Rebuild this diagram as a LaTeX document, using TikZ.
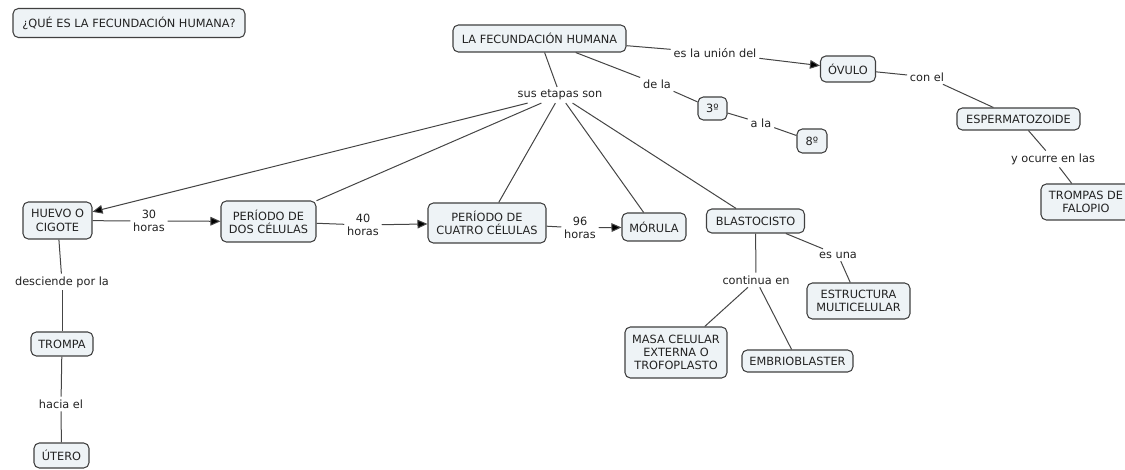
\documentclass[tikz,border=0pt]{standalone}
\usepackage{fontspec}
\setmainfont{DejaVu Sans}
\usetikzlibrary{arrows.meta}
\definecolor{boxfill}{HTML}{EEF3F6}
\definecolor{boxline}{HTML}{404040}
\definecolor{linkc}{HTML}{454545}
\definecolor{txt}{HTML}{222222}
\tikzset{
  concept/.style 2 args={draw=boxline, fill=boxfill, rounded corners=4pt, line width=0.8pt,
    align=center, inner sep=0pt, text=txt, font=\fontsize{8.5}{10}\selectfont,
    minimum width=#1*0.75pt, minimum height=#2*0.75pt},
  phrase/.style={align=center, inner sep=2pt, text=txt, font=\fontsize{8.5}{10}\selectfont},
  link/.style={draw=linkc, line width=0.75pt},
  arr/.style={link, -{Triangle[length=7.5pt,width=6.5pt,fill=black]}}
}
\begin{document}
\begin{tikzpicture}[x=0.75pt,y=-0.75pt]
\useasboundingbox (0,0) rectangle (1125,470);
% concepts
\node[concept={232}{29}] (q) at (129,23) {¿QUÉ ES LA FECUNDACIÓN HUMANA?};
\node[concept={173}{27}] (lfh) at (539.5,38.5) {LA FECUNDACIÓN HUMANA};
\node[concept={55}{26}] (ovulo) at (848,69) {ÓVULO};
\node[concept={29}{23}] (tres) at (712.5,108.5) {3º};
\node[concept={30}{24}] (ocho) at (812,141) {8º};
\node[concept={123}{22}] (esperma) at (1018.5,119) {ESPERMATOZOIDE};
\node[concept={90}{36}] (falopio) at (1086,202) {TROMPAS DE\\FALOPIO};
\node[concept={69}{37}] (huevo) at (57.5,220.5) {HUEVO O\\CIGOTE};
\node[concept={95}{41}] (dos) at (268.5,221.5) {PERÍODO DE\\DOS CÉLULAS};
\node[concept={118}{40}] (cuatro) at (487,223) {PERÍODO DE\\CUATRO CÉLULAS};
\node[concept={64}{28}] (morula) at (654,227) {MÓRULA};
\node[concept={98}{24}] (blasto) at (755.5,221) {BLASTOCISTO};
\node[concept={103}{36}] (estruct) at (858.5,301) {ESTRUCTURA\\MULTICELULAR};
\node[concept={102}{51}] (masa) at (676,352.5) {MASA CELULAR\\EXTERNA O\\TROFOPLASTO};
\node[concept={111}{22}] (embrio) at (797.5,361) {EMBRIOBLASTER};
\node[concept={62}{24}] (trompa) at (62,344) {TROMPA};
\node[concept={55}{25}] (utero) at (61.5,455.5) {ÚTERO};
% linking phrases
\node[phrase] (union) at (715,53) {es la unión del};
\node[phrase] (dela) at (657,84) {de la};
\node[phrase] (ala) at (761,123) {a la};
\node[phrase] (etapas) at (560,95) {sus etapas son};
\node[phrase] (conel) at (927,77) {con el};
\node[phrase] (ocurre) at (1053,159) {y ocurre en las};
\node[phrase] (h30) at (149,221) {30\\horas};
\node[phrase] (h40) at (363,225) {40\\horas};
\node[phrase] (h96) at (580,228) {96\\horas};
\node[phrase] (continua) at (756,280) {continua en};
\node[phrase] (esuna) at (838,255) {es una};
\node[phrase] (desciende) at (62,282) {desciende por la};
\node[phrase] (hacia) at (61,404) {hacia el};
% connectors
\draw[link] (lfh) -- (union);
\draw[arr] (union) -- (ovulo);
\draw[link] (lfh) -- (dela);
\draw[link] (dela) -- (tres);
\draw[link] (tres) -- (ala);
\draw[link] (ala) -- (ocho);
\draw[link] (ovulo) -- (conel);
\draw[link] (conel) -- (esperma);
\draw[link] (esperma) -- (ocurre);
\draw[link] (ocurre) -- (falopio);
\draw[link] (lfh) -- (etapas);
\draw[arr] (etapas) -- (huevo);
\draw[link] (etapas) -- (dos);
\draw[link] (etapas) -- (cuatro);
\draw[link] (etapas) -- (morula);
\draw[link] (etapas) -- (blasto);
\draw[link] (huevo) -- (h30);
\draw[arr] (h30) -- (dos);
\draw[link] (dos) -- (h40);
\draw[arr] (h40) -- (cuatro);
\draw[link] (cuatro) -- (h96);
\draw[arr] (h96) -- (morula);
\draw[link] (blasto) -- (esuna);
\draw[link] (esuna) -- (estruct);
\draw[link] (blasto) -- (continua);
\draw[link] (continua) -- (masa);
\draw[link] (continua) -- (embrio);
\draw[link] (huevo) -- (desciende);
\draw[link] (desciende) -- (trompa);
\draw[link] (trompa) -- (hacia);
\draw[link] (hacia) -- (utero);
\end{tikzpicture}
\end{document}
